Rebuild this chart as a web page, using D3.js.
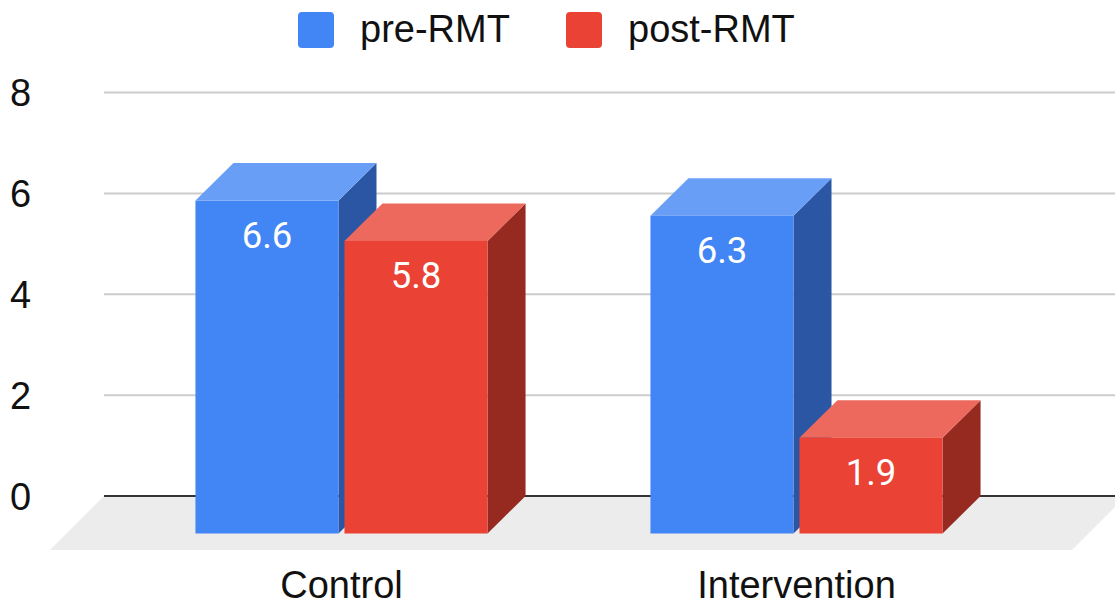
<!DOCTYPE html>
<html>
<head>
<meta charset="utf-8">
<script src="https://cdn.jsdelivr.net/npm/d3@7"></script>
<style>
  html, body { margin: 0; padding: 0; background: #fff; }
  svg { display: block; }
</style>
</head>
<body>
<svg id="chart" width="1115" height="605"></svg>
<script>
// Data
const categories = ["Control", "Intervention"];
const seriesNames = ["pre-RMT", "post-RMT"];
const preValues = [6.6, 6.3];
const postValues = [5.8, 1.9];
const yTicks = [0, 2, 4, 6, 8];

const W = 1115, H = 605;
const svg = d3.select("#chart");

// Colours per series: front, top, side faces
const palette = {
  "pre-RMT":  { front: "#4285f4", top: "#699ef6", side: "#2b56a3" },
  "post-RMT": { front: "#ea4335", top: "#ed695d", side: "#962a21" }
};

// 3D depth offset of the bar front faces relative to the back (grid) plane
const depthX = 38, depthY = 37.5;
const floorDepth = 54;

const labelFont = "'Liberation Sans', Arial, sans-serif";
const labelSize = 38;

// Back-plane value scale
const y = d3.scaleLinear().domain([0, 8]).range([496, 92.5]);

// Front-plane category and series scales
const x0 = d3.scaleBand().domain(categories).range([114, 1024])
  .paddingInner(0.358).paddingOuter(0.179);
const x1 = d3.scaleBand().domain(seriesNames).range([0, x0.bandwidth()])
  .paddingInner(0.04).paddingOuter(0);

const gridLeft = 104, gridRight = W + 11;

// Floor
svg.append("polygon")
  .attr("points", [
    [gridLeft, y(0)], [gridRight, y(0)],
    [gridRight - floorDepth, y(0) + floorDepth], [gridLeft - floorDepth, y(0) + floorDepth]
  ].map(p => p.join(",")).join(" "))
  .attr("fill", "#ececec");

// Gridlines on the back plane
svg.append("g").selectAll("line")
  .data(yTicks.filter(t => t !== 0))
  .join("line")
  .attr("x1", gridLeft).attr("x2", gridRight)
  .attr("y1", d => y(d)).attr("y2", d => y(d))
  .attr("stroke", "#cccccc").attr("stroke-width", 2);

// Baseline
svg.append("line")
  .attr("x1", gridLeft).attr("x2", gridRight)
  .attr("y1", y(0)).attr("y2", y(0))
  .attr("stroke", "#333333").attr("stroke-width", 2);

// Y axis tick labels
const yAxis = d3.axisLeft(y).tickValues(yTicks).tickSize(0).tickPadding(0);
const yG = svg.append("g").attr("transform", "translate(10,0)").call(yAxis);
yG.select(".domain").remove();
yG.selectAll("text")
  .attr("text-anchor", "start")
  .attr("dy", "0.35em")
  .attr("font-family", labelFont)
  .attr("font-size", labelSize)
  .attr("fill", "#111");

// Bars
const rows = [];
categories.forEach((c, i) => {
  rows.push({ cat: c, series: "pre-RMT", value: preValues[i] });
  rows.push({ cat: c, series: "post-RMT", value: postValues[i] });
});

const barW = x1.bandwidth();
const bars = svg.append("g").selectAll("g").data(rows).join("g");

bars.each(function(d) {
  const g = d3.select(this);
  const col = palette[d.series];
  const xl = x0(d.cat) + x1(d.series);
  const xr = xl + barW;
  const yTopB = y(d.value), yBotB = y(0);
  const yTopF = yTopB + depthY, yBotF = yBotB + depthY;
  const pts = a => a.map(p => p.join(",")).join(" ");

  // side face
  g.append("polygon")
    .attr("points", pts([[xr, yTopF], [xr + depthX, yTopB], [xr + depthX, yBotB], [xr, yBotF]]))
    .attr("fill", col.side);
  // top face
  g.append("polygon")
    .attr("points", pts([[xl, yTopF], [xr, yTopF], [xr + depthX, yTopB], [xl + depthX, yTopB]]))
    .attr("fill", col.top);
  // front face
  g.append("rect")
    .attr("x", xl).attr("y", yTopF)
    .attr("width", barW).attr("height", yBotF - yTopF)
    .attr("fill", col.front);
  // value label
  g.append("text")
    .attr("x", xl + barW / 2).attr("y", yTopF + 47)
    .attr("text-anchor", "middle")
    .attr("font-family", "Roboto, 'Liberation Sans', Arial, sans-serif")
    .attr("font-size", 36.5)
    .attr("fill", "#ffffff")
    .text(d3.format(".1f")(d.value));
});

// Category labels
svg.append("g").selectAll("text")
  .data(categories)
  .join("text")
  .attr("x", d => x0(d) + x0.bandwidth() / 2)
  .attr("y", 598)
  .attr("text-anchor", "middle")
  .attr("font-family", labelFont)
  .attr("font-size", labelSize)
  .attr("fill", "#111")
  .text(d => d);

// Legend
const legendItems = [
  { name: "pre-RMT", x: 298 },
  { name: "post-RMT", x: 566 }
];
const lg = svg.append("g").selectAll("g").data(legendItems).join("g")
  .attr("transform", d => `translate(${d.x},12)`);
lg.append("rect")
  .attr("width", 36).attr("height", 36).attr("rx", 4)
  .attr("fill", d => palette[d.name].front);
lg.append("text")
  .attr("x", 62).attr("y", 29.5)
  .attr("font-family", labelFont)
  .attr("font-size", labelSize)
  .attr("fill", "#111")
  .text(d => d.name);
</script>
</body>
</html>
